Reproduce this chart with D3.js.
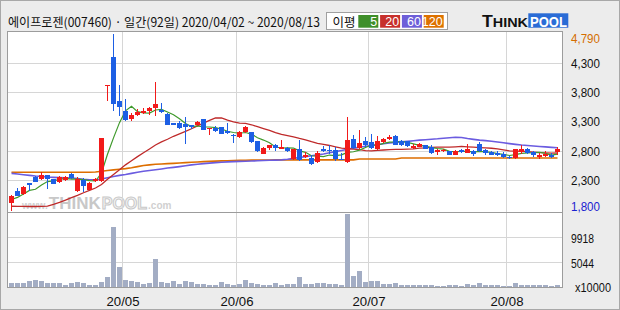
<!DOCTYPE html>
<html><head><meta charset="utf-8">
<script src="https://cdn.jsdelivr.net/npm/d3@7"></script>
<style>body{margin:0;background:#ececec}svg{display:block}</style>
</head><body>
<svg id="c" width="620" height="310"></svg>
<script>
// ---------- DATA ----------
const tradingDays = {
  "2020-04":[2,3,6,7,8,9,10,13,14,16,17,20,21,22,23,24,27,28,29],
  "2020-05":[4,6,7,8,11,12,13,14,15,18,19,20,21,22,25,26,27,28,29],
  "2020-06":[1,2,3,4,5,8,9,10,11,12,15,16,17,18,19,22,23,24,25,26,29,30],
  "2020-07":[1,2,3,6,7,8,9,10,13,14,15,16,17,20,21,22,23,24,27,28,29,30,31],
  "2020-08":[3,4,5,6,7,10,11,12,13]
};
const opens  = [1915,2125,2070,2255,2360,2330,2395,2325,2270,2300,2415,2115,2310,2140,2295,2295,3920,4400,3660,3475,
  3350,3410,3450,3475,3535,3505,3430,3275,3275,3260,3240,3240,3350,3180,3190,3205,3135,3080,3035,3125,
  3120,2965,2755,2850,2910,2840,2850,2665,2835,2695,2680,2615,2840,2825,2825,2665,2605,3005,2850,2975,
  2955,2840,2955,3010,3050,2965,2975,2850,2875,2895,2865,2795,2795,2795,2740,2825,2765,2795,2920,2825,
  2780,2765,2750,2705,2680,2785,2840,2785,2715,2710,2730,2785];
const highs  = [2055,2170,2200,2255,2370,2445,2395,2325,2380,2380,2425,2350,2340,2270,2340,3020,3925,4790,3920,3685,
  3450,3520,3535,3550,3975,3620,3450,3280,3305,3375,3250,3315,3350,3190,3220,3205,3275,3090,3135,3220,
  3125,2975,2865,2910,2920,2995,2870,2840,2995,2785,2740,2805,2880,2895,2865,2765,3380,3065,3160,3035,
  3090,3050,3020,3065,3065,2995,2975,2920,2935,2910,2895,2840,2840,2795,2825,2840,2920,2825,2955,2840,
  2805,2795,2785,2720,2840,2895,2850,2805,2765,2795,2765,2875];
const lows   = [1785,2030,2055,2115,2270,2310,2160,2245,2255,2285,2330,2100,2100,2130,2270,2270,3645,3475,3390,3315,
  3315,3390,3430,3420,3390,3450,3240,3245,3180,2920,3180,3220,3155,3065,3125,3090,3090,2935,3020,3105,
  2935,2785,2750,2825,2805,2840,2785,2655,2635,2680,2555,2595,2785,2750,2635,2645,2595,2840,2840,2870,
  2840,2825,2935,2995,2895,2880,2870,2840,2865,2840,2750,2725,2785,2740,2725,2765,2765,2710,2785,2740,
  2725,2710,2680,2670,2670,2750,2750,2695,2670,2705,2680,2725];
const closes = [2030,2040,2180,2225,2270,2395,2330,2245,2350,2350,2340,2330,2200,2255,2325,3020,3925,3600,3550,3335,
  3410,3460,3490,3535,3600,3465,3240,3250,3190,3205,3205,3295,3155,3190,3145,3090,3105,3050,3125,3210,
  2955,2795,2850,2895,2850,2870,2805,2835,2655,2725,2580,2765,2795,2795,2670,2645,2980,2850,2935,2895,
  2850,2965,3005,3045,2910,2895,2880,2880,2920,2840,2765,2810,2825,2740,2805,2780,2835,2750,2795,2765,
  2740,2725,2695,2695,2840,2840,2765,2725,2725,2750,2695,2840];
// volume, unit: 10,000 shares
const volumes = [1145,1145,1145,1405,1665,1405,1145,1015,1145,755,1145,1340,1145,755,755,1340,2315,12065,4265,1730,
  1470,1340,950,1145,5760,1340,1145,1535,950,1535,1275,950,950,755,755,1340,950,755,950,1730,
  1145,950,755,755,1145,755,950,885,2250,950,820,1080,1080,820,820,625,14470,2380,3355,1275,
  1405,1405,820,820,1080,625,625,625,625,625,625,430,430,625,625,430,820,625,1080,625,
  625,625,430,430,1080,625,625,625,625,625,430,625];
const ma5Head  = [1975,2010,2070,2130];
const ma20Head = [1860,1858,1856,1855,1855,1856,1862,1890,1925,1965,2005,2045,2090,2130,2170,2230,2320,2400,2480];
const ma60Head = [2420,2410,2397,2385,2375,2368,2358,2352,2347,2343,2340,2332,2320,2312,2312,2325,2345,2365,2385,2400,
  2420,2440,2455,2470,2482,2495,2510,2522,2535,2550,2565,2575,2585,2595,2603,2610,2615,2620,2624,2627,
  2630,2634,2638,2642,2646,2650,2660,2675,2690,2705,2720,2735,2750,2770,2790,2810,2830,2850,2865];
const ma120 = [2440,2440,2440,2440,2440,2440,2440,2440,2440,2440,2440,2440,2440,2440,2442,2455,2470,2480,2490,2500,
  2515,2535,2555,2565,2575,2580,2585,2590,2596,2602,2608,2614,2620,2624,2628,2632,2635,2638,2641,2643,
  2645,2646,2647,2648,2649,2650,2650,2650,2650,2650,2650,2650,2650,2650,2650,2650,2650,2650,2664,2664,
  2664,2664,2664,2664,2664,2681,2681,2681,2681,2681,2681,2681,2681,2681,2681,2681,2681,2681,2681,2681,
  2681,2681,2681,2681,2681,2681,2681,2681,2681,2681,2681,2681];
const priceTicks = [1800,2300,2800,3300,3800,4300,4790];
const volTicks = [5044,9918];
const maPeriods = [5,20,60,120];
const titleText = "에이프로젠(007460) · 일간(92일) 2020/04/02 ~ 2020/08/13";

// ---------- BUILD ----------
const dates = [];
Object.keys(tradingDays).forEach(m => tradingDays[m].forEach(d => dates.push(m + "-" + String(d).padStart(2,"0"))));
const N = dates.length;
function rolling(n, head){
  return closes.map((c,i) => i < n-1 ? head[i] : d3.mean(closes.slice(i-n+1, i+1)));
}
const maSeries = [rolling(5, ma5Head), rolling(20, ma20Head), rolling(60, ma60Head), ma120];
const maColors = ["#3f9a2c", "#bf2a2a", "#6b5ce0", "#dd6e00"];
const maWidths = [1.2, 1.3, 1.6, 1.6];
const legendColors = ["#3f8f2a", "#c7302c", "#6e5fd9", "#dd7200"];
const RED = "#f21a1a", BLUE = "#1d5fe4";

const svg = d3.select("#c");
const L = 7.5, R = 562.5, PT = 31.5, PB = 212.5, VB = 287.5;

const x = d3.scaleBand().domain(dates).range([8.5, 8.5 + 6*N]);
const cx = d => x(d) + 3;
const y = d3.scaleLinear().domain([1800, 4790]).range([209.75, 34.24]);
const yv = d3.scaleLinear().domain([170, 14792]).range([287.7, 212.7]);

svg.append("rect").attr("x",0).attr("y",0).attr("width",620).attr("height",310).attr("fill","#ececec");
svg.append("rect").attr("x",L).attr("y",PT).attr("width",R-L).attr("height",VB-PT).attr("fill","#fff");

// watermark: pieces placed one after another
const wmParts = [
  {t:"www.", size:10, fill:"#d0d0d0"},
  {t:"THINK", size:17, fill:"#c8c8c8"},
  {t:"POOL", size:16, fill:"#f4f4f4", stroke:"#c8c8c8"},
  {t:".com", size:10, fill:"#d0d0d0"}
];
const wmG = svg.append("g").attr("font-family","Liberation Sans, Arial, sans-serif").attr("font-weight","bold");
let wx = 22;
wmParts.forEach(p => {
  const t = wmG.append("text").attr("x", wx).attr("y", 209).attr("font-size", p.size).attr("fill", p.fill).text(p.t);
  if (p.stroke) t.attr("stroke", p.stroke).attr("stroke-width", 1);
  wx += t.node().getComputedTextLength() + 1;
});

// grids
const grid = svg.append("g").attr("stroke","#d6d6d6").attr("stroke-width",1).attr("shape-rendering","crispEdges");
priceTicks.filter(t => t > 1800 && t < 4790).forEach(t => {
  const yy = Math.floor(y(t)) + 0.5;
  grid.append("line").attr("x1",L).attr("x2",R).attr("y1",yy).attr("y2",yy);
});
volTicks.forEach(t => {
  const yy = Math.floor(yv(t)) + 0.5;
  grid.append("line").attr("x1",L).attr("x2",R).attr("y1",yy).attr("y2",yy);
});
const monthStarts = [];
dates.forEach((d,i) => { if (i > 0 && d.slice(0,7) !== dates[i-1].slice(0,7)) monthStarts.push(d); });
monthStarts.forEach(d => {
  const xx = Math.round(x(d)) + 0.5 - 1;
  grid.append("line").attr("x1",xx).attr("x2",xx).attr("y1",PT).attr("y2",VB);
});

// volume bars
svg.append("g").attr("shape-rendering","crispEdges").selectAll("rect").data(dates).join("rect")
  .attr("x", d => x(d) + 0.5).attr("width", 5)
  .attr("y", (d,i) => yv(volumes[i])).attr("height", (d,i) => yv(170) - yv(volumes[i]))
  .attr("fill", "#a3adc4");

// moving averages
const line = d3.line().x((v,i) => cx(dates[i])).y(v => y(v));
maSeries.slice().reverse().forEach((s, k) => {
  const j = maSeries.length - 1 - k;
  svg.append("path").attr("d", line(s)).attr("fill","none")
    .attr("stroke", maColors[j]).attr("stroke-width", maWidths[j]);
});

// candles
const cg = svg.append("g").attr("shape-rendering","crispEdges");
dates.forEach((d,i) => {
  const o = opens[i], c = closes[i];
  const up = c > o || (c === o && (i === 0 || c >= closes[i-1]));
  const col = up ? RED : BLUE;
  cg.append("rect").attr("x", x(d) + 2.5).attr("width", 1)
    .attr("y", y(highs[i])).attr("height", Math.max(1, y(lows[i]) - y(highs[i]))).attr("fill", col);
  const top = y(Math.max(o,c)), bot = y(Math.min(o,c));
  cg.append("rect").attr("x", x(d) + 0.5).attr("width", 5)
    .attr("y", top).attr("height", Math.max(1.2, bot - top)).attr("fill", col);
});

// frames
const fr = svg.append("g").attr("fill","none").attr("stroke","#9c9c9c").attr("shape-rendering","crispEdges");
fr.append("rect").attr("x",L).attr("y",PT).attr("width",R-L).attr("height",PB-PT);
fr.append("rect").attr("x",L).attr("y",PB).attr("width",R-L).attr("height",VB-PB);
fr.append("rect").attr("x",0.5).attr("y",0.5).attr("width",619).attr("height",309).attr("stroke","#a8a8a8");

// axis labels
const fmt = d3.format(",");
const ax = svg.append("g").attr("font-family","Liberation Sans, Arial, sans-serif").attr("font-size",13);
priceTicks.forEach(t => {
  const base = Math.min(211, Math.max(42.5, y(t) + 4.7));
  ax.append("text").attr("x",571).attr("y",base).text(fmt(t))
    .attr("fill", t === 4790 ? "#d46e00" : (t === 1800 ? "#1a22d0" : "#111"))
    .attr("textLength",29).attr("lengthAdjust","spacingAndGlyphs");
});
volTicks.forEach(t => {
  ax.append("text").attr("x",571).attr("y",yv(t) + 5.3).text(String(t)).attr("fill","#111")
    .attr("textLength",23).attr("lengthAdjust","spacingAndGlyphs");
});
ax.append("text").attr("x",575).attr("y",292).text("x10000").attr("fill","#111")
  .attr("textLength",36).attr("lengthAdjust","spacingAndGlyphs");
monthStarts.forEach(d => {
  const [yy, mm] = d.split("-");
  ax.append("text").attr("x", x(d) + 0.5).attr("y",305.5).attr("text-anchor","middle")
    .text(yy.slice(2) + "/" + mm).attr("fill","#111")
    .attr("textLength",33).attr("lengthAdjust","spacingAndGlyphs");
});

// title
svg.append("text").attr("x",8).attr("y",27).attr("font-family","Noto Sans CJK KR, sans-serif")
  .attr("font-size",12.5).attr("fill","#111").text(titleText)
  .attr("textLength",312).attr("lengthAdjust","spacingAndGlyphs");

// legend
const lg = svg.append("g");
lg.append("rect").attr("x",326.5).attr("y",12.5).attr("width",121).attr("height",17)
  .attr("fill","#fff").attr("stroke","#a0a0a0").attr("shape-rendering","crispEdges");
lg.append("text").attr("x",332.5).attr("y",26.5).attr("font-family","Noto Sans CJK KR, sans-serif")
  .attr("font-size",12.5).attr("fill","#111").text("이평");
maPeriods.forEach((p,k) => {
  const bx = 358.3 + k*21.8;
  lg.append("rect").attr("x",bx).attr("y",15).attr("width",20).attr("height",12.7).attr("fill",legendColors[k]);
  lg.append("text").attr("x",bx + 19).attr("y",26).attr("text-anchor","end")
    .attr("font-family","Liberation Sans, Arial, sans-serif").attr("font-size",12.5).attr("fill","#fff").text(p);
});

// logo
const lo = svg.append("g").attr("font-family","Liberation Sans, Arial, sans-serif").attr("font-weight","bold");
const tk = lo.append("text").attr("x",482).attr("y",27.3).attr("fill","#111");
tk.append("tspan").attr("font-size",16).text("T");
tk.append("tspan").attr("font-size",13).text("HINK");
tk.attr("textLength",46).attr("lengthAdjust","spacingAndGlyphs");
lo.append("rect").attr("x",528.3).attr("y",13.3).attr("width",40).attr("height",14.4).attr("fill","#2a6cd6");
lo.append("text").attr("x",530).attr("y",26.8).attr("font-size",15).attr("fill","#fff").text("POOL")
  .attr("textLength",37).attr("lengthAdjust","spacingAndGlyphs");
</script>
</body></html>
